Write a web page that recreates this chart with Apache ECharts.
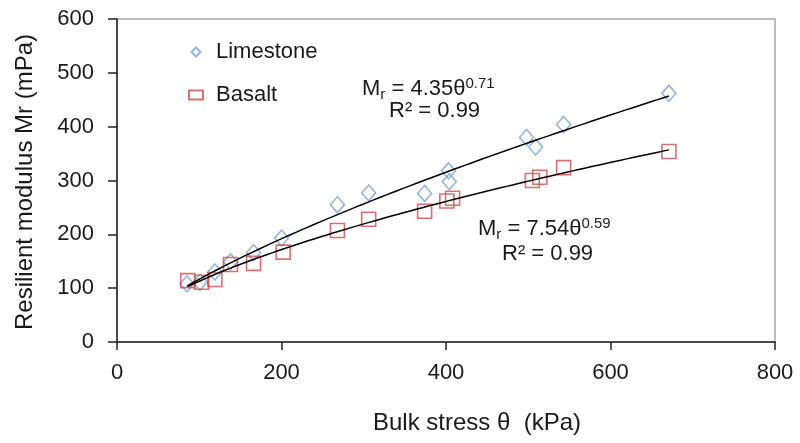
<!DOCTYPE html>
<html>
<head>
<meta charset="utf-8">
<script src="https://cdn.jsdelivr.net/npm/echarts@6/dist/echarts.min.js"></script>
<style>
html,body{margin:0;padding:0;background:#fff;}
#chart{width:800px;height:443px;}
</style>
</head>
<body>
<div id="chart"></div>
<script>
// ---- data ----
const limestoneX = [85, 101, 119, 138, 166, 200, 268, 306, 374, 403, 404, 498, 509, 543, 671];
const limestoneY = [108, 111, 130, 149, 166, 193, 255, 277, 276, 318, 298, 380, 362, 404, 462];
const basaltX = [86, 103, 119, 138, 166, 202, 268, 306, 374, 401, 408, 505, 514, 543, 671];
const basaltY = [114, 111, 116, 144, 146, 167, 207, 228, 243, 262, 267, 300, 306, 324, 354];
const seriesNames = ['Limestone', 'Basalt'];
const xTicks = [0, 200, 400, 600, 800];
const yTicks = [0, 100, 200, 300, 400, 500, 600];
const xTitle = 'Bulk stress \u03b8  (kPa)';
const yTitle = 'Resilient modulus Mr (mPa)';
const eqLime = {coef: '4.35', exp: '0.71', r2: '0.99'};
const eqBasalt = {coef: '7.54', exp: '0.59', r2: '0.99'};

// power-law trendline (least squares in log space, as a spreadsheet trendline does)
function powerFit(xs, ys) {
  const n = xs.length;
  let sx = 0, sy = 0, sxx = 0, sxy = 0;
  for (let i = 0; i < n; i++) {
    const lx = Math.log(xs[i]), ly = Math.log(ys[i]);
    sx += lx; sy += ly; sxx += lx * lx; sxy += lx * ly;
  }
  const b = (n * sxy - sx * sy) / (n * sxx - sx * sx);
  const a = Math.exp((sy - b * sx) / n);
  return {a, b};
}
function trendPoints(xs, ys) {
  const f = powerFit(xs, ys);
  const lo = Math.min(...xs), hi = Math.max(...xs);
  const pts = [];
  const N = 80;
  for (let i = 0; i <= N; i++) {
    const x = lo + (hi - lo) * i / N;
    pts.push([x, f.a * Math.pow(x, f.b)]);
  }
  return pts;
}
const zip = (xs, ys) => xs.map((x, i) => [x, ys[i]]);

const FONT = '"Liberation Sans", Arial, sans-serif';
const TXT = '#1a1a1a';
const BLUE = '#7ba3d9';
const RED = '#cc4d4d';

const chart = echarts.init(document.getElementById('chart'), null, {renderer: 'canvas'});

function eqRich(coef, exp) {
  return {
    text: '{m|M}{s|r}{m| = ' + coef + '\u03b8}{p|' + exp + '}',
    rich: {
      m: {fontSize: 22, fontFamily: FONT, fill: TXT, color: TXT, lineHeight: 26},
      s: {fontSize: 15, fontFamily: FONT, fill: TXT, color: TXT, lineHeight: 14, verticalAlign: 'bottom'},
      p: {fontSize: 15, fontFamily: FONT, fill: TXT, color: TXT, lineHeight: 16, verticalAlign: 'top'}
    }
  };
}

const option = {
  animation: false,
  backgroundColor: '#fff',
  grid: {left: 117, right: 25, top: 19, bottom: 101, show: true, borderColor: '#a6a6a6', borderWidth: 1.5, backgroundColor: 'transparent'},
  xAxis: {
    type: 'value', min: 0, max: 800, interval: 200,
    axisLine: {show: true, onZero: false, lineStyle: {color: '#222', width: 1.5}},
    axisTick: {show: true, inside: false, length: 8, lineStyle: {color: '#222', width: 1.5}},
    axisLabel: {margin: 20, fontSize: 22, fontFamily: FONT, color: TXT,
      formatter: v => xTicks.includes(v) ? String(v) : ''},
    splitLine: {show: false}
  },
  yAxis: {
    type: 'value', min: 0, max: 600, interval: 100,
    axisLine: {show: true, onZero: false, lineStyle: {color: '#222', width: 1.5}},
    axisTick: {show: true, inside: false, length: 9, lineStyle: {color: '#222', width: 1.5}},
    axisLabel: {margin: 23, fontSize: 22, fontFamily: FONT, color: TXT,
      formatter: v => yTicks.includes(v) ? String(v) : ''},
    splitLine: {show: false}
  },
  legend: {
    orient: 'vertical', left: 183, top: 35, itemGap: 19,
    itemWidth: 14, itemHeight: 9,
    textStyle: {fontSize: 22, fontFamily: FONT, color: TXT, lineHeight: 24, padding: [0, 0, 0, 8]},
    data: [
      {name: seriesNames[0], icon: 'path://M6,0 L12,6 L6,12 L0,6 Z'},
      {name: seriesNames[1], icon: 'rect'}
    ]
  },
  series: [
    {
      name: 'Limestone trend', type: 'line', data: trendPoints(limestoneX, limestoneY),
      showSymbol: false, symbol: 'none', lineStyle: {color: '#000', width: 1.5}, z: 3, silent: true
    },
    {
      name: 'Basalt trend', type: 'line', data: trendPoints(basaltX, basaltY),
      showSymbol: false, symbol: 'none', lineStyle: {color: '#000', width: 1.5}, z: 3, silent: true
    },
    {
      name: seriesNames[0], type: 'scatter', data: zip(limestoneX, limestoneY),
      symbol: 'diamond', symbolSize: [14, 16],
      itemStyle: {color: 'rgba(255,255,255,0)', borderColor: BLUE, borderWidth: 1.6}, z: 2
    },
    {
      name: seriesNames[1], type: 'scatter', data: zip(basaltX, basaltY),
      symbol: 'rect', symbolSize: 14,
      itemStyle: {color: 'rgba(255,255,255,0)', borderColor: RED, borderWidth: 1.6}, z: 2
    }
  ],
  graphic: [
    {type: 'text', left: 362, top: 76, style: eqRich(eqLime.coef, eqLime.exp)},
    {type: 'text', left: 389, top: 100, style: {text: 'R\u00b2 = ' + eqLime.r2, fontSize: 22, fontFamily: FONT, fill: TXT}},
    {type: 'text', left: 478, top: 216, style: eqRich(eqBasalt.coef, eqBasalt.exp)},
    {type: 'text', left: 502, top: 243, style: {text: 'R\u00b2 = ' + eqBasalt.r2, fontSize: 22, fontFamily: FONT, fill: TXT}},
    {type: 'text', left: 373, top: 411, style: {text: xTitle, fontSize: 24, fontFamily: FONT, fill: TXT}},
    {type: 'text', x: 25, y: 182, rotation: Math.PI / 2,
      style: {text: yTitle, fontSize: 24, fontFamily: FONT, fill: TXT, align: 'center', verticalAlign: 'middle'}}
  ]
};
chart.setOption(option);
</script>
</body>
</html>
